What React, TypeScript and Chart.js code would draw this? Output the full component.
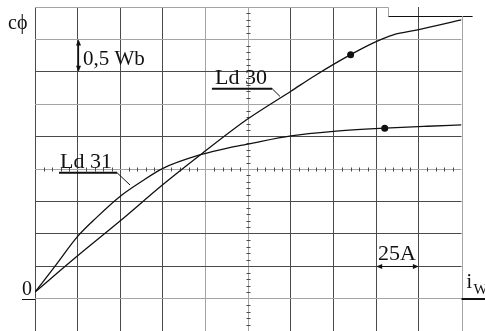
import React, { useEffect, useRef } from "react";
import { Chart, registerables } from "chart.js";

Chart.register(...registerables);

// ---- data (current in A, flux in Wb) ----
const currentLd30 = [0, 25, 50, 75, 97, 124, 150, 164, 185, 199, 210, 225, 250];
const fluxLd30 = [0.1, 0.66, 1.2, 1.76, 2.22, 2.76, 3.2, 3.44, 3.765, 3.955, 4.07, 4.15, 4.3];
const currentLd31 = [0, 12, 25, 36, 50, 62, 75, 97, 114, 124, 150, 175, 205, 230, 250];
const fluxLd31 = [0.1, 0.51, 0.96, 1.25, 1.58, 1.8, 2.01, 2.22, 2.33, 2.38, 2.51, 2.58, 2.63, 2.66, 2.68];
const markedCurrentLd30 = 185;
const markedCurrentLd31 = 205;
const seriesNames = ["Ld 30", "Ld 31"];

const xMin = 0;
const xMax = 250;
const xStep = 25;
const yMin = -0.5;
const yMax = 4.5;
const yStep = 0.5;

const yAxisLabel = "cϕ";
const xAxisLabel = "i";
const xAxisSub = "W";
const originLabel = "0";
const xScaleLabel = "25A";
const yScaleLabel = "0,5 Wb";

const lightX = [100, 125, 250];
const lightY = [4.5, 4, 3, 2, 0];

const DARK = "#4a4a4a";
const LIGHT = "#a4a4a4";
const INK = "#111";
const FONT = "'Liberation Serif', 'Times New Roman', serif";

function arrowHead(ctx: CanvasRenderingContext2D, x: number, y: number, dx: number, dy: number) {
  const len = 6;
  const w = 2.5;
  const px = -dy;
  const py = dx;
  ctx.beginPath();
  ctx.moveTo(x, y);
  ctx.lineTo(x - dx * len + px * w, y - dy * len + py * w);
  ctx.lineTo(x - dx * len - px * w, y - dy * len - py * w);
  ctx.closePath();
  ctx.fill();
}

const overlayPlugin = {
  id: "overlay",
  beforeDatasetsDraw(chart: any) {
    const { ctx, scales } = chart;
    const X = (v: number) => scales.x.getPixelForValue(v);
    const Y = (v: number) => scales.y.getPixelForValue(v);
    ctx.save();
    // top border with step
    ctx.lineWidth = 1;
    ctx.strokeStyle = LIGHT;
    ctx.beginPath();
    ctx.moveTo(X(0), Math.round(Y(4.5)) + 0.5);
    ctx.lineTo(Math.round(X(207)) + 0.5, Math.round(Y(4.5)) + 0.5);
    ctx.lineTo(Math.round(X(207)) + 0.5, Math.round(Y(4.36)) + 0.5);
    ctx.stroke();
    ctx.strokeStyle = INK;
    ctx.beginPath();
    ctx.moveTo(Math.round(X(207)) + 0.5, Math.round(Y(4.36)) + 0.5);
    ctx.lineTo(X(256.5), Math.round(Y(4.36)) + 0.5);
    ctx.stroke();
    // right border
    ctx.strokeStyle = LIGHT;
    ctx.beginPath();
    ctx.moveTo(Math.round(X(250)) + 0.5, Y(4.36));
    ctx.lineTo(Math.round(X(250)) + 0.5, Y(yMin));
    ctx.stroke();
    // minor ticks on centre lines
    ctx.strokeStyle = DARK;
    const cx = Math.round(X(125)) + 0.5;
    for (let k = -5; k <= 45; k++) {
      if (k % 5 === 0) continue;
      const yy = Math.round(Y(k / 10)) + 0.5;
      ctx.beginPath();
      ctx.moveTo(cx - 2, yy);
      ctx.lineTo(cx + 2, yy);
      ctx.stroke();
    }
    const cy = Math.round(Y(2)) + 0.5;
    for (let a = 0; a <= 250; a += 5) {
      if (a % 25 === 0) continue;
      const xx = Math.round(X(a)) + 0.5;
      ctx.beginPath();
      ctx.moveTo(xx, cy - 2);
      ctx.lineTo(xx, cy + 2);
      ctx.stroke();
    }
    ctx.restore();
  },
  afterDraw(chart: any) {
    const { ctx, scales } = chart;
    const X = (v: number) => scales.x.getPixelForValue(v);
    const Y = (v: number) => scales.y.getPixelForValue(v);
    ctx.save();
    ctx.fillStyle = INK;
    ctx.strokeStyle = INK;
    ctx.textBaseline = "alphabetic";
    ctx.textAlign = "left";

    // y axis label
    ctx.font = `20px ${FONT}`;
    ctx.fillText(yAxisLabel, X(0) - 27, Y(4.5) + 22);

    // origin label
    ctx.font = `20px ${FONT}`;
    ctx.textAlign = "right";
    ctx.fillText(originLabel, X(0) - 3, Y(0) - 4);
    ctx.textAlign = "left";
    ctx.lineWidth = 1;
    ctx.beginPath();
    ctx.moveTo(X(0) - 13, Math.round(Y(0)) + 0.5);
    ctx.lineTo(X(0), Math.round(Y(0)) + 0.5);
    ctx.stroke();

    // x axis arrow + label
    ctx.lineWidth = 2;
    ctx.beginPath();
    ctx.moveTo(X(250), Math.round(Y(0)));
    ctx.lineTo(X(250) + 30, Math.round(Y(0)));
    ctx.stroke();
    ctx.font = `20px ${FONT}`;
    ctx.fillText(xAxisLabel, X(250) + 5, Y(0) - 11);
    ctx.font = `15px ${FONT}`;
    ctx.fillText(xAxisSub, X(250) + 12, Y(0) - 5);

    // 0,5 Wb scale arrow
    ctx.lineWidth = 1.2;
    const ax = Math.round(X(25)) + 0.5;
    ctx.beginPath();
    ctx.moveTo(ax, Y(4) + 2);
    ctx.lineTo(ax, Y(3.5) - 2);
    ctx.stroke();
    arrowHead(ctx, ax, Y(4), 0, -1);
    arrowHead(ctx, ax, Y(3.5), 0, 1);
    ctx.font = `21px ${FONT}`;
    ctx.fillText(yScaleLabel, X(28.1), Y(3.6));

    // 25A scale arrow
    const ay = Math.round(Y(0.5)) + 0.5;
    ctx.beginPath();
    ctx.moveTo(X(200) + 2, ay);
    ctx.lineTo(X(225) - 2, ay);
    ctx.stroke();
    arrowHead(ctx, X(200), ay, -1, 0);
    arrowHead(ctx, X(225), ay, 1, 0);
    ctx.font = `22px ${FONT}`;
    ctx.fillText(xScaleLabel, X(201), Y(0.6));

    // Ld 30 label
    ctx.font = `22px ${FONT}`;
    ctx.fillText(seriesNames[0], X(105.5), Y(3.318));
    ctx.lineWidth = 2;
    ctx.beginPath();
    ctx.moveTo(X(103.7), Y(3.24));
    ctx.lineTo(X(139), Y(3.24));
    ctx.stroke();
    ctx.lineWidth = 1;
    ctx.beginPath();
    ctx.moveTo(X(139), Y(3.24));
    ctx.lineTo(X(143.6), Y(3.12));
    ctx.stroke();

    // Ld 31 label
    ctx.fillText(seriesNames[1], X(14.65), Y(2.015));
    ctx.lineWidth = 2;
    ctx.beginPath();
    ctx.moveTo(X(14.07), Y(1.943));
    ctx.lineTo(X(48.07), Y(1.943));
    ctx.stroke();
    ctx.lineWidth = 1;
    ctx.beginPath();
    ctx.moveTo(X(48.07), Y(1.943));
    ctx.lineTo(X(55.7), Y(1.753));
    ctx.stroke();

    ctx.restore();
  },
};

function toPoints(xs: number[], ys: number[]) {
  return xs.map((x, i) => ({ x, y: ys[i] }));
}

export default function App() {
  const ref = useRef<HTMLCanvasElement | null>(null);
  useEffect(() => {
    if (!ref.current) return;
    const chart = new Chart(ref.current, {
      type: "line",
      data: {
        datasets: [
          {
            label: seriesNames[0],
            data: toPoints(currentLd30, fluxLd30),
            borderColor: INK,
            backgroundColor: INK,
            borderWidth: 1.3,
            cubicInterpolationMode: "monotone",
            pointRadius: (c: any) => (c.raw && c.raw.x === markedCurrentLd30 ? 3.5 : 0),
            pointBorderWidth: 0,
            fill: false,
          },
          {
            label: seriesNames[1],
            data: toPoints(currentLd31, fluxLd31),
            borderColor: INK,
            backgroundColor: INK,
            borderWidth: 1.3,
            cubicInterpolationMode: "monotone",
            pointRadius: (c: any) => (c.raw && c.raw.x === markedCurrentLd31 ? 3.5 : 0),
            pointBorderWidth: 0,
            fill: false,
          },
        ],
      },
      options: {
        responsive: false,
        animation: false,
        devicePixelRatio: 1,
        layout: { padding: { left: 35, top: 7, right: 23.5, bottom: 0 } },
        plugins: { legend: { display: false }, tooltip: { enabled: false } },
        events: [],
        scales: {
          x: {
            type: "linear",
            min: xMin,
            max: xMax,
            ticks: { display: false, stepSize: xStep },
            border: { display: false },
            grid: {
              drawTicks: false,
              lineWidth: 1,
              color: (c: any) => {
                const v = c.tick ? c.tick.value : 0;
                if (v === 250) return "rgba(0,0,0,0)";
                return lightX.includes(v) ? LIGHT : DARK;
              },
            },
          },
          y: {
            type: "linear",
            min: yMin,
            max: yMax,
            ticks: { display: false, stepSize: yStep },
            border: { display: false },
            grid: {
              drawTicks: false,
              lineWidth: 1,
              color: (c: any) => {
                const v = c.tick ? c.tick.value : 0;
                if (v === 4.5) return "rgba(0,0,0,0)";
                return lightY.includes(v) ? LIGHT : DARK;
              },
            },
          },
        },
      },
      plugins: [overlayPlugin],
    } as any);
    return () => chart.destroy();
  }, []);
  return (
    <div style={{ position: "absolute", left: 0, top: 0, width: 485, height: 331, background: "#fff" }}>
      <canvas ref={ref} width={485} height={331} style={{ display: "block" }} />
    </div>
  );
}
